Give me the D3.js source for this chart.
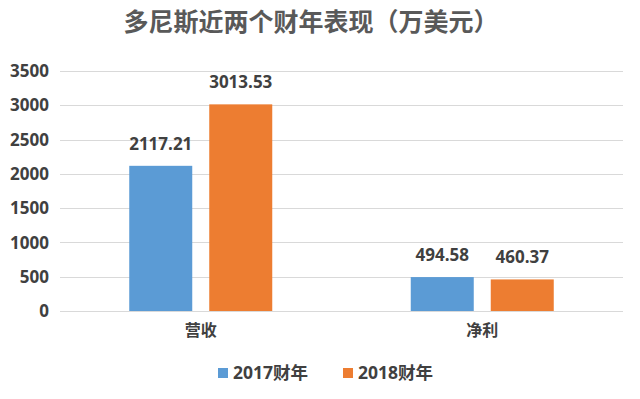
<!DOCTYPE html>
<html>
<head>
<meta charset="utf-8">
<script src="https://cdn.jsdelivr.net/npm/d3@7"></script>
<style>
  body { margin: 0; background: #fff; }
  text { font-family: "Open Sans", "Noto Sans CJK SC", sans-serif; font-weight: bold; }
  text.cjk { font-family: "Noto Sans CJK SC", sans-serif; }
</style>
</head>
<body>
<script>
'use strict';

var categories = ['营收', '净利'];
var seriesNames = ['2017财年', '2018财年'];
var values2017 = [2117.21, 494.58];
var values2018 = [3013.53, 460.37];
var yTicks = [0, 500, 1000, 1500, 2000, 2500, 3000, 3500];
var colors = ['#5b9bd5', '#ed7d31'];

var width = 640;
var height = 399;

var rows = categories.map(function(c, i) {
  return { cat: c, vals: [values2017[i], values2018[i]] };
});

var x0 = d3.scaleBand().domain(categories).range([60, 623])
  .paddingInner(0.492).paddingOuter(0.246);
var x1 = d3.scaleBand().domain([0, 1]).range([0, x0.bandwidth()])
  .paddingInner(0.2125);
var y = d3.scaleLinear().domain([0, 3500]).range([311, 71]);

var svg = d3.select('body').append('svg')
  .attr('width', width)
  .attr('height', height);

svg.append('rect').attr('width', width).attr('height', height).attr('fill', '#fff');

// title
svg.append('text')
  .attr('class', 'cjk')
  .attr('x', 311)
  .attr('y', 31)
  .attr('text-anchor', 'middle')
  .attr('font-size', 25)
  .attr('fill', '#595959')
  .text('多尼斯近两个财年表现（万美元）');

// grid
svg.append('g').selectAll('line')
  .data(yTicks)
  .enter().append('line')
  .attr('x1', 60).attr('x2', 623)
  .attr('y1', function(d) { return Math.round(y(d)) + 0.5; })
  .attr('y2', function(d) { return Math.round(y(d)) + 0.5; })
  .attr('stroke', '#d9d9d9')
  .attr('stroke-width', 1);

// y axis labels
svg.append('g').selectAll('text')
  .data(yTicks)
  .enter().append('text')
  .attr('x', 49)
  .attr('y', function(d) { return y(d); })
  .attr('dy', '0.36em')
  .attr('text-anchor', 'end')
  .attr('font-size', 17)
  .attr('fill', '#404040')
  .text(function(d) { return d; });

// bars
var groups = svg.append('g').selectAll('g')
  .data(rows)
  .enter().append('g')
  .attr('transform', function(d) { return 'translate(' + x0(d.cat) + ',0)'; });

groups.selectAll('rect')
  .data(function(d) { return d.vals; })
  .enter().append('rect')
  .attr('x', function(d, i) { return x1(i); })
  .attr('width', x1.bandwidth())
  .attr('y', function(d) { return y(d); })
  .attr('height', function(d) { return y(0) - y(d); })
  .attr('fill', function(d, i) { return colors[i]; });

groups.selectAll('text.val')
  .data(function(d) { return d.vals; })
  .enter().append('text')
  .attr('class', 'val')
  .attr('x', function(d, i) { return x1(i) + x1.bandwidth() / 2; })
  .attr('y', function(d) { return y(d) - 16; })
  .attr('text-anchor', 'middle')
  .attr('font-size', 17)
  .attr('fill', '#404040')
  .text(function(d) { return d.toFixed(2); });

// category labels
svg.append('g').selectAll('text')
  .data(categories)
  .enter().append('text')
  .attr('class', 'cjk')
  .attr('x', function(d) { return x0(d) + x0.bandwidth() / 2; })
  .attr('y', 336)
  .attr('text-anchor', 'middle')
  .attr('font-size', 16)
  .attr('fill', '#404040')
  .text(function(d) { return d; });

// legend
var legendX = [218, 343];
var legend = svg.append('g').selectAll('g')
  .data(seriesNames)
  .enter().append('g')
  .attr('transform', function(d, i) { return 'translate(' + legendX[i] + ',368)'; });

legend.append('rect')
  .attr('width', 10).attr('height', 10)
  .attr('fill', function(d, i) { return colors[i]; });

legend.append('text')
  .attr('x', 15)
  .attr('y', 5)
  .attr('dy', '0.36em')
  .attr('font-size', 17.5)
  .attr('fill', '#404040')
  .text(function(d) { return d; });
</script>
</body>
</html>
